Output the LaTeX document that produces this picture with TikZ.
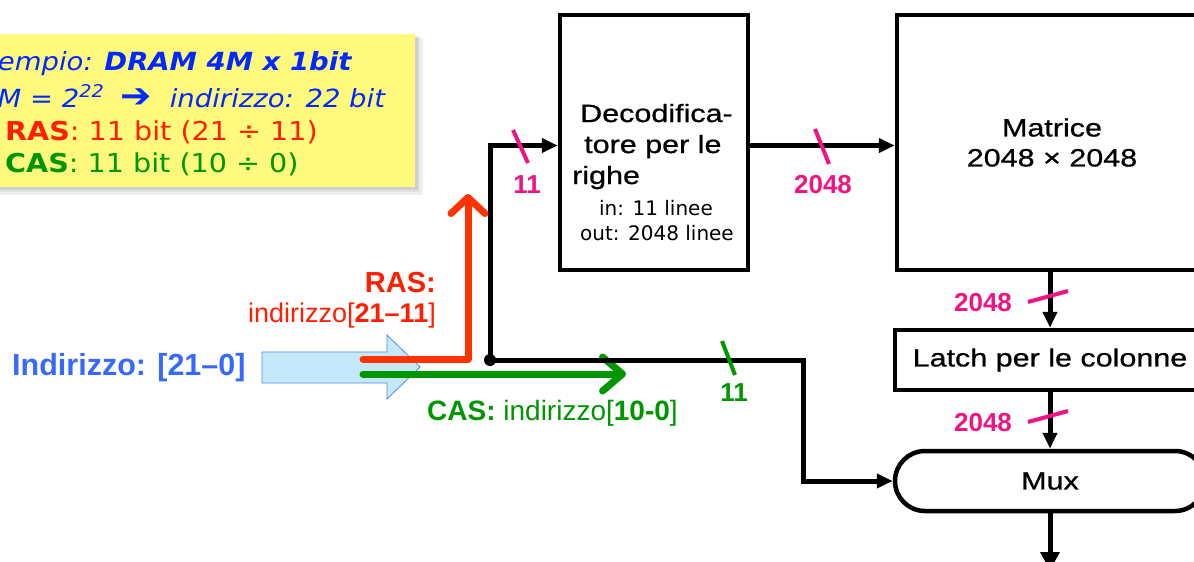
\documentclass[tikz,border=0pt]{standalone}
\usepackage{fontspec}
\setmainfont{Liberation Sans}
\newfontfamily\dvs{DejaVu Sans}
\newfontfamily\dvsw[FakeStretch=1.1]{DejaVu Sans}
\newfontfamily\wide[FakeStretch=1.22,FakeBold=0.8]{Liberation Sans}
\usetikzlibrary{arrows.meta,shapes.misc}
\definecolor{noteyellow}{RGB}{255,250,125}
\definecolor{noteblue}{RGB}{0,40,255}
\definecolor{rasred}{RGB}{255,30,0}
\definecolor{arrred}{RGB}{255,51,0}
\definecolor{casgreen}{RGB}{0,150,0}
\definecolor{addrblue}{RGB}{55,105,255}
\definecolor{pink}{RGB}{240,20,130}
\definecolor{fatfill}{RGB}{198,232,251}
\definecolor{fatdraw}{RGB}{80,140,230}
\begin{document}
\begin{tikzpicture}[x=1pt,y=-1pt,
  box/.style={draw=black, line width=4.5pt, inner sep=0pt, font=\wide\fontsize{25}{30}\selectfont, align=center},
  conn/.style={line width=5pt, black, -{Triangle[length=16pt,width=14pt]}},
  plain/.style={line width=5pt, black},
  tick/.style={line width=4pt, pink},
  ticklbl/.style={text=pink, font=\bfseries\fontsize{26}{30}\selectfont, inner sep=0pt},
  fat/.style={line width=7pt, line cap=round, line join=round},
  txt/.style={inner sep=0pt, anchor=base west}]
\useasboundingbox (0,0) rectangle (1194,562);
\clip (0,0) rectangle (1194,562);
\fill[white] (0,0) rectangle (1194,562);

% note box with shadow
\fill[black,opacity=0.06] (-10,38) rectangle (423,195);
\fill[black,opacity=0.06] (-10,37) rectangle (420,192);
\fill[black,opacity=0.08] (-10,36) rectangle (418,190);
\fill[noteyellow] (-10,34) rectangle (415,187);
\node[txt, text=noteblue, font=\dvsw\itshape\fontsize{25}{30}\selectfont] (n1) at (-34,70) {Esempio: \textbf{DRAM 4M x 1bit}};
\node[txt, text=noteblue, font=\dvsw\itshape\fontsize{25}{30}\selectfont] (n2) at (-20,107) {4M = 2\textsuperscript{22}\hspace{16pt}{\upshape\bfseries\fontsize{34}{30}\selectfont ➔}\hspace{18pt}indirizzo: 22 bit};
\node[txt, text=rasred, font=\dvsw\fontsize{26}{30}\selectfont] (n3) at (5,140) {\textbf{RAS}: 11 bit (21 ÷ 11)};
\node[txt, text=casgreen, font=\dvsw\fontsize{26}{30}\selectfont] (n4) at (5,172) {\textbf{CAS}: 11 bit (10 ÷ 0)};

% boxes
\node[box, minimum width=188pt, minimum height=255pt] (dec) at (654,142.5) {};
\node[box, minimum width=310pt, minimum height=255pt] (mat) at (1052,142.5) {Matrice\\2048 × 2048};
\node[box, minimum width=310pt, minimum height=60pt] (latch) at (1050,360) {Latch per le colonne};
\node[box, rounded rectangle, minimum width=310pt, minimum height=60pt] (mux) at (1050,481) {Mux};

% decoder texts
\node[txt, font=\wide\fontsize{25}{30}\selectfont] (d1) at (580,122) {Decodifica-};
\node[txt, font=\wide\fontsize{25}{30}\selectfont] (d2) at (584,153) {tore per le};
\node[txt, font=\wide\fontsize{25}{30}\selectfont] (d3) at (572,184) {righe};
\node[inner sep=0pt, anchor=base, font=\dvs\fontsize{20}{24}\selectfont] (d4) at (656,215) {in: 11 linee};
\node[inner sep=0pt, anchor=base, font=\dvs\fontsize{20}{24}\selectfont] (d5) at (657,240) {out: 2048 linee};

% fat address arrow
\path[fill=fatfill, draw=fatdraw, line width=0.8pt] (262,352) -- (387,352) -- (387,335) -- (420,367) -- (387,399) -- (387,383) -- (262,383) -- cycle;
\node[txt, text=addrblue, font=\bfseries\fontsize{30.5}{32}\selectfont] (addr) at (12,375) {Indirizzo: [21–0]};

% RAS / CAS arrows
\coordinate (rs) at (363,359);
\coordinate (rt) at (468,194);
\coordinate (cs) at (363,374);
\coordinate (ct) at (626,374);
\draw[fat, arrred, -{Straight Barb[length=16pt,width=34pt,round]}] (rs) -| (rt);
\draw[fat, casgreen, -{Straight Barb[length=20pt,width=34pt,round]}] (cs) -- (ct);
\node[inner sep=0pt, anchor=base east, text=rasred, font=\bfseries\fontsize{29}{32}\selectfont] (raslbl) at (436,292) {RAS:};
\node[inner sep=0pt, anchor=base east, text=rasred, font=\fontsize{27}{30}\selectfont] (rasidx) at (436,322) {indirizzo[\textbf{21–11}]};
\node[txt, text=casgreen, font=\fontsize{28}{30}\selectfont] (caslbl) at (427,420) {\textbf{CAS:} indirizzo[\textbf{10-0}]};

% black connectors
\coordinate (j) at (490,360);
\coordinate (out) at (1050,570);
\draw[conn] (j) |- ([yshift=-3pt]dec.west);
\draw[conn] ([yshift=-3pt]dec.east) -- ([yshift=-3pt]mat.west);
\draw[conn] (j) -- (803,360) |- (mux.west);
\draw[conn] (latch.north |- mat.south) -- (latch.north);
\draw[conn] (latch.south) -- (mux.north);
\draw[plain] (mux.south) -- (out);
\fill[black] (j) circle (6);
\fill[black] (1050,552) -- (1040,552) -- (1050,570) -- (1060,552) -- cycle;

% width ticks
\draw[tick] (513,130) -- (528,163);
\node[ticklbl] (t1) at (527,185) {11};
\draw[tick] (815,129) -- (829,164);
\node[ticklbl] (t2) at (823,185) {2048};
\draw[tick] (1028,302) -- (1068,291);
\node[ticklbl] (t3) at (983,303) {2048};
\draw[tick] (1028,422) -- (1068,411);
\node[ticklbl] (t4) at (983,423) {2048};
\draw[line width=4pt, casgreen] (722,341) -- (735,375);
\node[inner sep=0pt, text=casgreen, font=\bfseries\fontsize{26}{30}\selectfont] (t5) at (734,393) {11};
\end{tikzpicture}
\end{document}
